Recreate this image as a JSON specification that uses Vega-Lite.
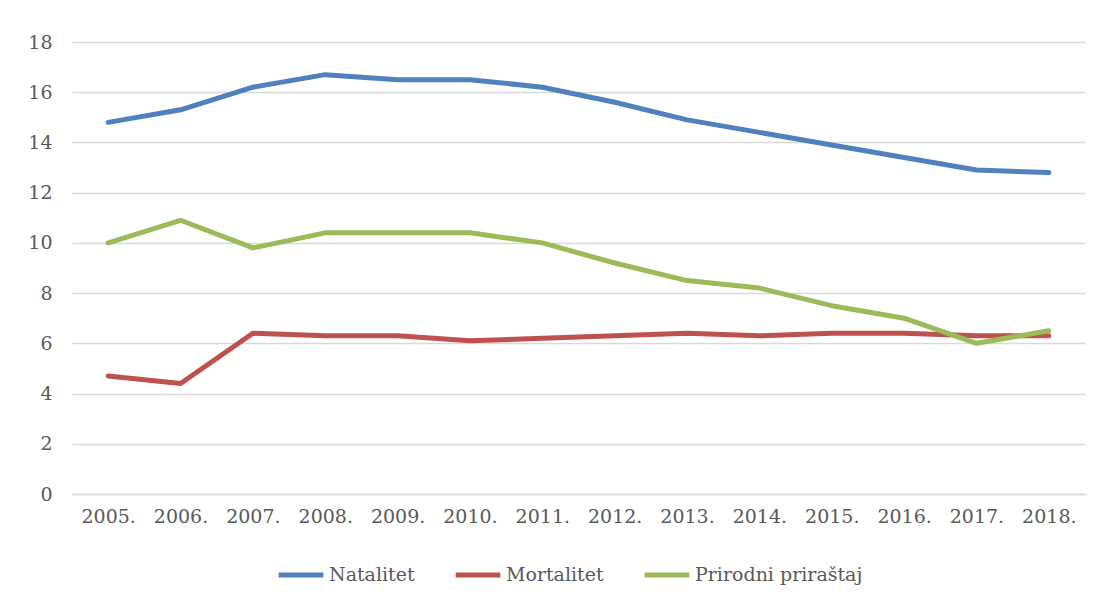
{
  "$schema": "https://vega.github.io/schema/vega-lite/v6.json",
  "width": 1013,
  "height": 452,
  "autosize": {"type": "none"},
  "padding": {"left": 72, "top": 42, "right": 16, "bottom": 109},
  "background": "white",
  "config": {
    "view": {"stroke": null},
    "font": "DejaVu Serif",
    "axis": {"labelFont": "DejaVu Serif", "labelColor": "#595959", "labelFontSize": 19},
    "legend": {"labelFont": "DejaVu Serif", "labelColor": "#595959", "labelFontSize": 19}
  },
  "data": {
    "values": [
      {"year": "2005.", "series": "Natalitet", "v": 14.8},
      {"year": "2006.", "series": "Natalitet", "v": 15.3},
      {"year": "2007.", "series": "Natalitet", "v": 16.2},
      {"year": "2008.", "series": "Natalitet", "v": 16.7},
      {"year": "2009.", "series": "Natalitet", "v": 16.5},
      {"year": "2010.", "series": "Natalitet", "v": 16.5},
      {"year": "2011.", "series": "Natalitet", "v": 16.2},
      {"year": "2012.", "series": "Natalitet", "v": 15.6},
      {"year": "2013.", "series": "Natalitet", "v": 14.9},
      {"year": "2014.", "series": "Natalitet", "v": 14.4},
      {"year": "2015.", "series": "Natalitet", "v": 13.9},
      {"year": "2016.", "series": "Natalitet", "v": 13.4},
      {"year": "2017.", "series": "Natalitet", "v": 12.9},
      {"year": "2018.", "series": "Natalitet", "v": 12.8},
      {"year": "2005.", "series": "Mortalitet", "v": 4.7},
      {"year": "2006.", "series": "Mortalitet", "v": 4.4},
      {"year": "2007.", "series": "Mortalitet", "v": 6.4},
      {"year": "2008.", "series": "Mortalitet", "v": 6.3},
      {"year": "2009.", "series": "Mortalitet", "v": 6.3},
      {"year": "2010.", "series": "Mortalitet", "v": 6.1},
      {"year": "2011.", "series": "Mortalitet", "v": 6.2},
      {"year": "2012.", "series": "Mortalitet", "v": 6.3},
      {"year": "2013.", "series": "Mortalitet", "v": 6.4},
      {"year": "2014.", "series": "Mortalitet", "v": 6.3},
      {"year": "2015.", "series": "Mortalitet", "v": 6.4},
      {"year": "2016.", "series": "Mortalitet", "v": 6.4},
      {"year": "2017.", "series": "Mortalitet", "v": 6.3},
      {"year": "2018.", "series": "Mortalitet", "v": 6.3},
      {"year": "2005.", "series": "Prirodni priraštaj", "v": 10.0},
      {"year": "2006.", "series": "Prirodni priraštaj", "v": 10.9},
      {"year": "2007.", "series": "Prirodni priraštaj", "v": 9.8},
      {"year": "2008.", "series": "Prirodni priraštaj", "v": 10.4},
      {"year": "2009.", "series": "Prirodni priraštaj", "v": 10.4},
      {"year": "2010.", "series": "Prirodni priraštaj", "v": 10.4},
      {"year": "2011.", "series": "Prirodni priraštaj", "v": 10.0},
      {"year": "2012.", "series": "Prirodni priraštaj", "v": 9.2},
      {"year": "2013.", "series": "Prirodni priraštaj", "v": 8.5},
      {"year": "2014.", "series": "Prirodni priraštaj", "v": 8.2},
      {"year": "2015.", "series": "Prirodni priraštaj", "v": 7.5},
      {"year": "2016.", "series": "Prirodni priraštaj", "v": 7.0},
      {"year": "2017.", "series": "Prirodni priraštaj", "v": 6.0},
      {"year": "2018.", "series": "Prirodni priraštaj", "v": 6.5}
    ]
  },
  "mark": {"type": "line", "strokeWidth": 5, "strokeCap": "round", "strokeJoin": "round"},
  "encoding": {
    "x": {
      "field": "year", "type": "ordinal", "sort": null,
      "scale": {"type": "point", "padding": 0.5},
      "axis": {"title": null, "labelAngle": 0, "ticks": false, "domain": true, "domainColor": "#d9d9d9", "domainWidth": 1.5, "labelPadding": 13, "grid": false}
    },
    "y": {
      "field": "v", "type": "quantitative",
      "scale": {"domain": [0, 18], "nice": false},
      "axis": {"title": null, "values": [0, 2, 4, 6, 8, 10, 12, 14, 16, 18], "ticks": false, "domain": false, "grid": true, "gridColor": "#d9d9d9", "gridWidth": 1.5, "labelPadding": 20}
    },
    "color": {
      "field": "series", "type": "nominal", "sort": ["Natalitet", "Mortalitet", "Prirodni priraštaj"],
      "scale": {"domain": ["Natalitet", "Mortalitet", "Prirodni priraštaj"], "range": ["#4F81BD", "#C0504D", "#9BBB59"]},
      "legend": {"title": null, "orient": "none", "legendX": 204, "legendY": 508, "direction": "horizontal", "symbolType": "stroke", "symbolSize": 2000, "symbolStrokeWidth": 5, "labelOffset": 3, "labelLimit": 400, "columnPadding": 30}
    }
  }
}
